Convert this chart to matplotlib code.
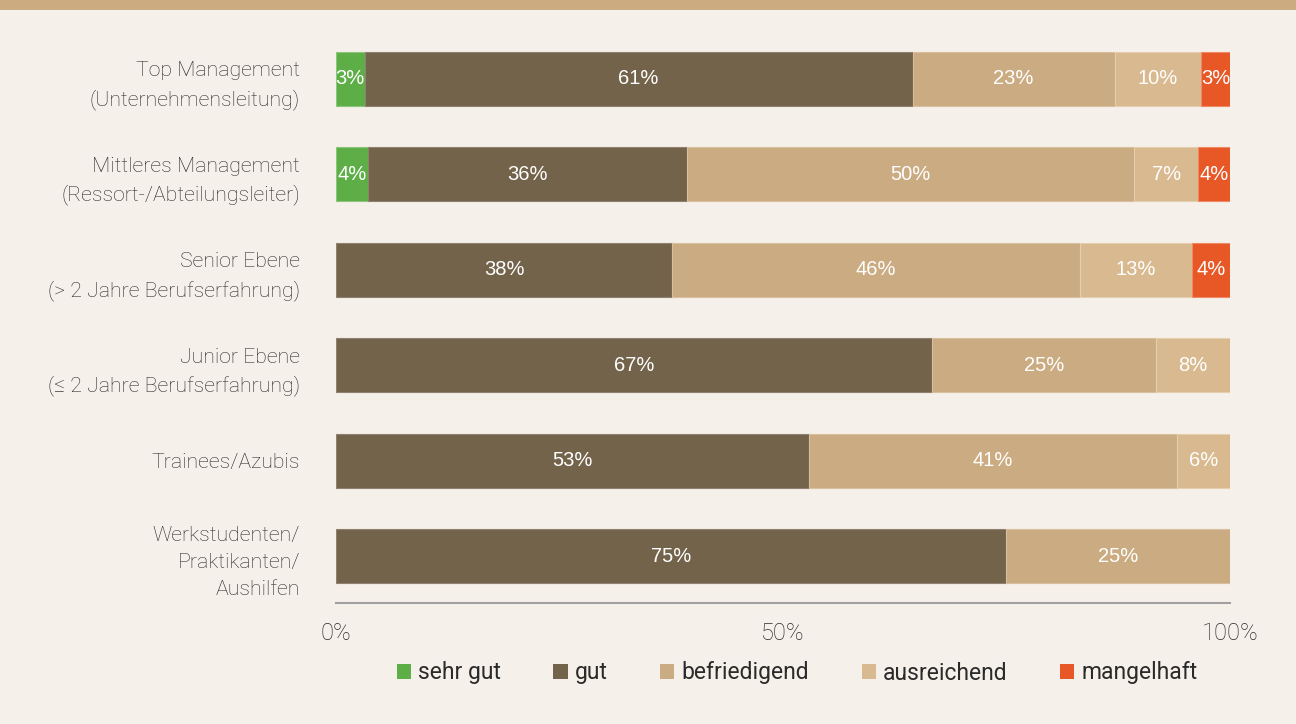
import numpy as np
import matplotlib
matplotlib.use("Agg")
import matplotlib.pyplot as plt
from matplotlib.patches import Patch, Rectangle

groups = [
    "Top Management\n(Unternehmensleitung)",
    "Mittleres Management\n(Ressort-/Abteilungsleiter)",
    "Senior Ebene\n(> 2 Jahre Berufserfahrung)",
    "Junior Ebene\n(≤ 2 Jahre Berufserfahrung)",
    "Trainees/Azubis",
    "Werkstudenten/\nPraktikanten/\nAushilfen",
]
ratings = ["sehr gut", "gut", "befriedigend", "ausreichend", "mangelhaft"]

# shares in percent per rating, one entry per group
sehr_gut = [3.2, 3.6, 0.0, 0.0, 0.0, 0.0]
gut = [61.3, 35.7, 37.6, 66.7, 52.9, 75.0]
befriedigend = [22.6, 50.0, 45.6, 25.0, 41.2, 25.0]
ausreichend = [9.7, 7.1, 12.6, 8.3, 5.9, 0.0]
mangelhaft = [3.2, 3.6, 4.2, 0.0, 0.0, 0.0]

colors = ["#5dae47", "#74634b", "#cbab81", "#d9b98f", "#e85726"]
edges = ["#8cc57c", "#8f8170", "#d8bf9e", "#e6cfb1", "#f08a66"]
bg = "#f5f0e9"

plt.rcParams["font.family"] = ["Roboto", "DejaVu Sans"]

fig = plt.figure(figsize=(12.96, 7.24), dpi=100, facecolor=bg)
ax = fig.add_axes([336 / 1296, 1 - 603 / 724, 894 / 1296, (603 - 32) / 724])
ax.set_facecolor(bg)

# header band across the top
fig.patches.append(Rectangle((0, 1 - 10 / 724), 1, 10 / 724, transform=fig.transFigure,
                             facecolor="#cdab80", edgecolor="none", zorder=0))

y = np.arange(len(groups))
left = np.zeros(len(groups))
for name, vals, c, ec in zip(ratings, [sehr_gut, gut, befriedigend, ausreichend, mangelhaft], colors, edges):
    vals = np.array(vals)
    bars = ax.barh(y, vals, left=left, height=0.5625, color=c, edgecolor=ec, linewidth=0.8, label=name)
    for b, v, l in zip(bars, vals, left):
        if v > 0:
            ax.text(l + v / 2, b.get_y() + b.get_height() / 2, f"{v:.0f}%",
                    ha="center", va="center", color="white", fontsize=14.5,
                    family="Liberation Sans")
    left += vals

ax.set_xlim(0, 100)
ax.set_ylim(5.49, -0.49)
ax.set_yticks(y)
ax.set_yticklabels(groups, fontsize=15.3, fontweight="light", color="#2a2a2a", linespacing=1.55)
ax.set_xticks([0, 50, 100])
ax.set_xticklabels(["0%", "50%", "100%"], fontsize=17, fontweight="light", color="#2a2a2a")
ax.tick_params(axis="both", length=0)
ax.tick_params(axis="y", pad=26)
ax.tick_params(axis="x", pad=14)
for s in ["top", "right", "left"]:
    ax.spines[s].set_visible(False)
ax.spines["bottom"].set_color("#a0a0a0")
ax.spines["bottom"].set_linewidth(1.5)

handles = [Patch(facecolor=c, edgecolor="none") for c in colors]
fig.legend(handles, ratings, loc="center", bbox_to_anchor=(797 / 1296, 1 - 673 / 724),
           ncol=5, frameon=False, handlelength=0.62, handleheight=0.62,
           handletextpad=0.3, columnspacing=2.3, labelcolor="#2a2a2a",
           prop={"weight": "normal", "size": 16.5})

fig.savefig("out.png", dpi=100, facecolor=bg)
